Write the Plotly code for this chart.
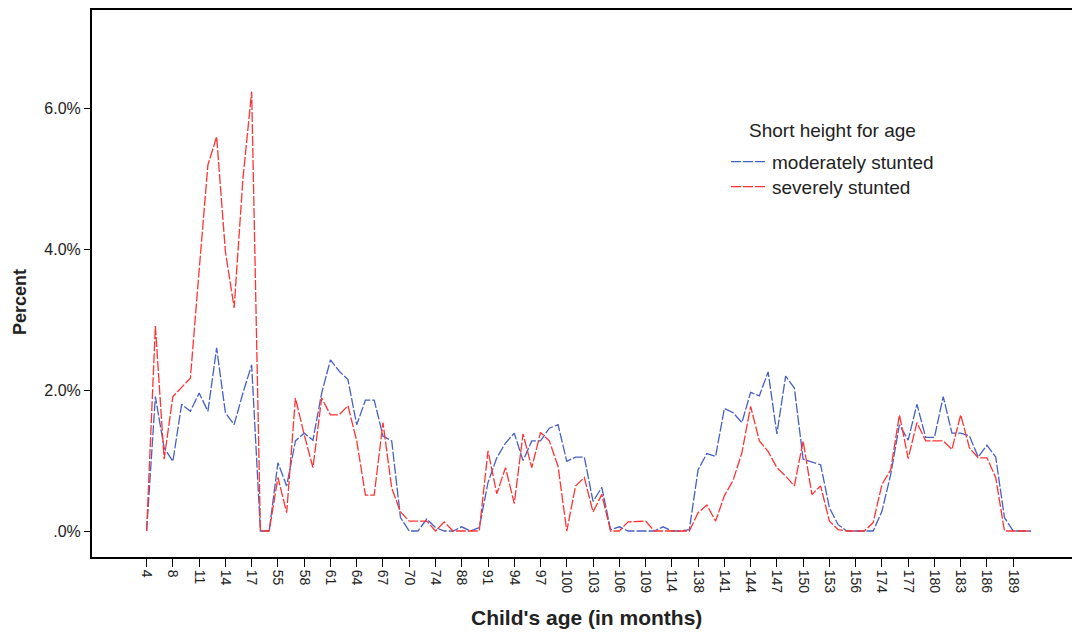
import plotly.graph_objects as go

ages = ["4", "5", "6", "8", "9", "10", "11", "12", "13", "14", "15", "16", "17", "18", "54",
        "55", "56", "57", "58", "59", "60", "61", "62", "63", "64", "65", "66", "67", "68", "69",
        "70", "71", "72", "74", "75", "87", "88", "89", "90", "91", "92", "93", "94", "95", "96",
        "97", "98", "99", "100", "101", "102", "103", "104", "105", "106", "107", "108", "109",
        "110", "111", "114", "115", "137", "138", "139", "140", "141", "142", "143", "144", "145",
        "146", "147", "148", "149", "150", "151", "152", "153", "154", "155", "156", "157", "173",
        "174", "175", "176", "177", "178", "179", "180", "181", "182", "183", "184", "185", "186",
        "187", "188", "189", "190", "191"]

moderately = [0, 1.91, 1.18, 0.99, 1.80, 1.70, 1.96, 1.70, 2.60, 1.68, 1.51, 1.96, 2.36, 0, 0,
              0.97, 0.64, 1.28, 1.39, 1.29, 1.96, 2.43, 2.27, 2.15, 1.51, 1.86, 1.86, 1.35, 1.28, 0.19,
              0, 0, 0.17, 0.05, 0, 0, 0.06, 0, 0.05, 0.69, 1.04, 1.25, 1.39, 1.00, 1.28,
              1.28, 1.46, 1.51, 0.99, 1.05, 1.05, 0.42, 0.62, 0.02, 0.06, 0, 0, 0,
              0, 0.06, 0, 0, 0.02, 0.87, 1.10, 1.06, 1.74, 1.68, 1.54, 1.97, 1.92,
              2.26, 1.38, 2.20, 2.03, 1.02, 0.98, 0.94, 0.33, 0.09, 0, 0, 0, 0,
              0.28, 0.80, 1.51, 1.29, 1.80, 1.33, 1.33, 1.91, 1.39, 1.39, 1.35, 1.05, 1.22,
              1.05, 0.19, 0, 0, 0]

severely = [0, 2.91, 1.02, 1.91, 2.04, 2.17, 3.70, 5.20, 5.60, 3.97, 3.17, 5.00, 6.24, 0, 0,
            0.76, 0.26, 1.89, 1.37, 0.90, 1.89, 1.65, 1.65, 1.78, 1.28, 0.51, 0.51, 1.54, 0.61, 0.27,
            0.14, 0.14, 0.14, 0, 0.13, 0, 0, 0, 0, 1.14, 0.53, 0.90, 0.39, 1.38, 0.90,
            1.40, 1.28, 0.92, 0, 0.64, 0.76, 0.27, 0.52, 0, 0, 0.13, 0.14, 0.14,
            0, 0, 0, 0, 0, 0.26, 0.37, 0.14, 0.50, 0.72, 1.11, 1.77, 1.28,
            1.13, 0.90, 0.78, 0.64, 1.28, 0.52, 0.64, 0.14, 0.02, 0, 0, 0, 0.12,
            0.66, 0.87, 1.65, 1.03, 1.54, 1.28, 1.28, 1.28, 1.16, 1.65, 1.18, 1.04, 1.04,
            0.76, 0, 0, 0, 0]

y_ticks = [0, 2, 4, 6]
y_tick_labels = [".0%", "2.0%", "4.0%", "6.0%"]

FONT = "Liberation Sans, Arial, sans-serif"
TXT = "#222222"

fig = go.Figure()
fig.add_trace(go.Scatter(x=ages, y=moderately, mode="lines", name="moderately stunted",
                         legend="legend",
                         line=dict(color="#4660c4", width=1.3, dash="10px,2px")))
fig.add_trace(go.Scatter(x=ages, y=severely, mode="lines", name="severely stunted",
                         legend="legend2",
                         line=dict(color="#ff3333", width=1.3, dash="10px,2px")))

leg_common = dict(x=0.643, xanchor="left", yanchor="middle", bgcolor="rgba(0,0,0,0)",
                  font=dict(family=FONT, size=19, color=TXT), itemwidth=36)

fig.update_layout(
    width=1072, height=625,
    margin=dict(l=84, r=0, t=1, b=76),
    paper_bgcolor="white", plot_bgcolor="white",
    font=dict(family=FONT, size=14, color=TXT),
    showlegend=True,
    legend=dict(y=0.7226, **leg_common),
    legend2=dict(y=0.677, **leg_common),
    xaxis=dict(
        type="category", categoryorder="array", categoryarray=ages,
        range=[-6.24, 106.4], dtick=3, tick0=0,
        showgrid=False, zeroline=False,
        showline=True, linecolor="black", linewidth=2, mirror=True,
        ticks="outside", ticklen=8, tickcolor="black", tickwidth=1,
        tickangle=90, tickfont=dict(family=FONT, size=14, color=TXT),
    ),
    yaxis=dict(
        range=[-0.369, 7.40],
        tickvals=y_ticks, ticktext=y_tick_labels,
        showgrid=False, zeroline=False,
        showline=True, linecolor="black", linewidth=2, mirror=True,
        ticks="outside", ticklen=6, tickcolor="black", tickwidth=1,
        tickfont=dict(family=FONT, size=16, color=TXT),
    ),
    annotations=[
        dict(text="<b>Child's age (in months)</b>", xref="paper", yref="paper",
             x=0.502, y=-0.111, xanchor="center", yanchor="middle", showarrow=False,
             font=dict(family=FONT, size=21, color=TXT)),
        dict(text="<b>Percent</b>", xref="paper", yref="paper",
             x=-0.073, y=0.466, xanchor="center", yanchor="middle", textangle=-90,
             showarrow=False, font=dict(family=FONT, size=18, color=TXT)),
        dict(text="Short height for age", xref="paper", yref="paper",
             x=0.751, y=0.779, xanchor="center", yanchor="middle", showarrow=False,
             font=dict(family=FONT, size=19, color=TXT)),
    ],
)

fig.write_html("out.html")
